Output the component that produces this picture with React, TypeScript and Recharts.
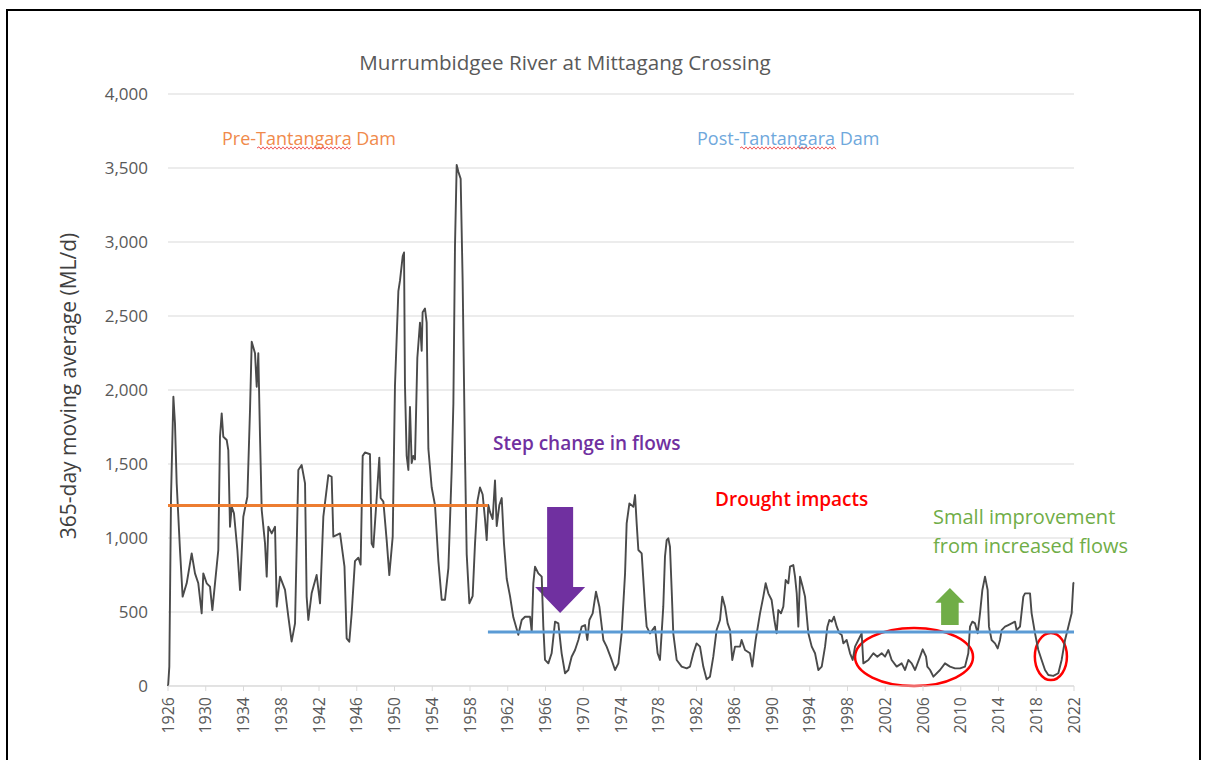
import {
  LineChart,
  Line,
  XAxis,
  YAxis,
  CartesianGrid,
  ReferenceLine,
  ReferenceArea,
} from 'recharts';

// 365-day moving average, by decimal year
const years = [
  1926.0, 1926.03, 1926.14, 1926.32, 1926.57, 1926.74, 1926.92, 1927.27, 1927.55, 1927.98,
  1928.51, 1928.86, 1929.21, 1929.57, 1929.74, 1930.1, 1930.45, 1930.7, 1930.98, 1931.33,
  1931.51, 1931.69, 1931.86, 1932.22, 1932.39, 1932.57, 1932.75, 1932.99, 1933.35, 1933.63,
  1933.98, 1934.41, 1934.69, 1934.87, 1935.22, 1935.4, 1935.57, 1935.75, 1935.93, 1936.28,
  1936.46, 1936.63, 1936.99, 1937.34, 1937.52, 1937.87, 1938.4, 1938.75, 1939.1, 1939.46,
  1939.81, 1940.16, 1940.52, 1940.69, 1940.87, 1941.22, 1941.75, 1942.11, 1942.46, 1942.99,
  1943.34, 1943.52, 1944.23, 1944.7, 1944.93, 1945.21, 1945.46, 1945.81, 1946.17, 1946.41,
  1946.63, 1946.87, 1947.4, 1947.58, 1947.76, 1948.11, 1948.39, 1948.53, 1948.82, 1949.17,
  1949.45, 1949.81, 1950.05, 1950.41, 1950.58, 1950.87, 1951.01, 1951.11, 1951.29, 1951.47,
  1951.64, 1951.82, 1951.99, 1952.17, 1952.42, 1952.7, 1952.88, 1952.98, 1953.23, 1953.41,
  1953.59, 1953.94, 1954.29, 1954.65, 1955.0, 1955.35, 1955.71, 1956.06, 1956.24, 1956.41,
  1956.59, 1956.77, 1957.01, 1957.22, 1957.47, 1957.65, 1957.93, 1958.28, 1958.53, 1958.78,
  1959.06, 1959.34, 1959.59, 1959.77, 1959.94, 1960.12, 1960.4, 1960.65, 1960.83, 1961.11,
  1961.36, 1961.6, 1961.89, 1962.24, 1962.59, 1963.12, 1963.48, 1963.83, 1964.36, 1964.54,
  1964.71, 1964.89, 1965.24, 1965.6, 1965.77, 1965.95, 1966.3, 1966.65, 1967.01, 1967.36,
  1967.71, 1968.07, 1968.42, 1968.77, 1969.13, 1969.48, 1969.83, 1970.19, 1970.43, 1970.65,
  1971.0, 1971.35, 1971.71, 1972.13, 1972.48, 1973.01, 1973.37, 1973.72, 1974.07, 1974.43,
  1974.6, 1974.89, 1975.31, 1975.49, 1975.66, 1975.84, 1976.19, 1976.55, 1976.72, 1977.07,
  1977.6, 1977.88, 1978.13, 1978.48, 1978.66, 1978.84, 1979.01, 1979.19, 1979.37, 1979.54,
  1979.9, 1980.43, 1980.96, 1981.31, 1981.66, 1982.01, 1982.37, 1982.72, 1983.07, 1983.43,
  1983.78, 1984.13, 1984.49, 1984.73, 1985.02, 1985.3, 1985.55, 1985.79, 1986.08, 1986.61,
  1986.78, 1987.14, 1987.67, 1987.91, 1988.27, 1988.73, 1989.08, 1989.33, 1989.61, 1989.96,
  1990.25, 1990.49, 1990.67, 1990.95, 1991.2, 1991.45, 1991.73, 1991.91, 1992.26, 1992.44,
  1992.62, 1992.79, 1992.97, 1993.25, 1993.5, 1993.85, 1994.21, 1994.56, 1994.91, 1995.27,
  1995.62, 1995.87, 1996.08, 1996.33, 1996.57, 1996.86, 1997.14, 1997.39, 1997.56, 1997.91,
  1998.27, 1998.55, 1998.8, 1999.15, 1999.5, 1999.68, 2000.21, 2000.74, 2001.16, 2001.62,
  2001.98, 2002.33, 2002.68, 2003.21, 2003.74, 2004.1, 2004.45, 2004.8, 2005.16, 2005.69,
  2005.97, 2006.32, 2006.46, 2006.75, 2007.1, 2007.8, 2008.33, 2008.86, 2009.39, 2009.92,
  2010.45, 2010.8, 2010.98, 2011.23, 2011.51, 2011.79, 2012.04, 2012.29, 2012.57, 2012.85,
  2012.99, 2013.27, 2013.63, 2013.91, 2014.16, 2014.33, 2014.69, 2015.04, 2015.39, 2015.75,
  2015.92, 2016.28, 2016.63, 2016.81, 2017.34, 2017.51, 2017.87, 2018.22, 2018.57, 2018.93,
  2019.28, 2019.81, 2020.34, 2020.69, 2021.05, 2021.4, 2021.75, 2021.93, 2022.0,
];

const flows = [
  0, 18, 131, 1279, 1955, 1775, 1369, 919, 604, 694,
  896, 761, 694, 491, 761, 694, 671, 513, 694, 919,
  1684, 1842, 1684, 1662, 1594, 1076, 1212, 1167, 919, 649,
  1144, 1279, 1865, 2326, 2248, 2022, 2248, 1684, 1189, 964,
  739, 1076, 1031, 1076, 536, 739, 649, 468, 300, 423,
  1459, 1493, 1369, 604, 446, 626, 750, 559, 1144, 1425,
  1414, 1009, 1031, 806, 322, 299, 488, 844, 867, 820,
  1555, 1578, 1566, 962, 938, 1270, 1543, 1270, 1246, 986,
  749, 1009, 2028, 2668, 2739, 2905, 2929, 2028, 1555, 1460,
  1886, 1507, 1555, 1531, 2218, 2455, 2265, 2526, 2550, 2455,
  1602, 1341, 1223, 844, 583, 583, 796, 1460, 1910, 2976,
  3521, 3474, 3427, 2739, 1555, 891, 559, 607, 962, 1246,
  1341, 1294, 1128, 986, 1223, 1175, 1128, 1389, 1081, 1223,
  1270, 962, 725, 607, 464, 346, 446, 468, 468, 367,
  694, 806, 761, 739, 401, 176, 153, 221, 435, 423,
  221, 86, 108, 198, 243, 311, 401, 412, 311, 446,
  491, 637, 536, 311, 266, 176, 108, 153, 356, 761,
  1099, 1234, 1211, 1290, 1099, 919, 896, 536, 401, 356,
  401, 221, 176, 536, 874, 986, 998, 941, 649, 356,
  176, 131, 119, 131, 221, 288, 266, 131, 45, 63,
  198, 378, 446, 604, 536, 423, 378, 176, 266, 266,
  311, 243, 221, 131, 311, 491, 604, 694, 626, 581,
  446, 356, 513, 491, 536, 716, 694, 806, 817, 739,
  626, 401, 739, 671, 604, 356, 266, 221, 108, 131,
  266, 401, 446, 435, 468, 401, 356, 345, 288, 311,
  221, 176, 266, 311, 356, 153, 176, 221, 198, 221,
  198, 243, 176, 131, 153, 108, 176, 153, 108, 198,
  248, 198, 131, 108, 63, 108, 153, 131, 119, 119,
  131, 221, 401, 435, 423, 356, 491, 649, 739, 649,
  401, 311, 288, 254, 311, 378, 401, 412, 423, 435,
  378, 401, 604, 626, 626, 491, 356, 243, 176, 108,
  74, 68, 86, 176, 311, 401, 491, 694, 700,
];

const yearTicks = [
  1926, 1930, 1934, 1938, 1942, 1946, 1950, 1954, 1958, 1962, 1966, 1970, 1974,
  1978, 1982, 1986, 1990, 1994, 1998, 2002, 2006, 2010, 2014, 2018, 2022,
];
const flowTicks = [0, 500, 1000, 1500, 2000, 2500, 3000, 3500, 4000];

// mean flow before / after the dam
const preDamMean = 1220;
const postDamMean = 365;
const preDamStart = 1926;
const damYear = 1959.9;
const postDamEnd = 2022;

// annotation extents in chart units (years, ML/d)
const droughtSpan = { x1: 1998.8, x2: 2011.3, y1: 0, y2: 392 };
const recentDrySpan = { x1: 2017.85, x2: 2021.25, y1: 40, y2: 358 };
const stepArrow = { x1: 1964.9, x2: 1970.2, y1: 493, y2: 1210 };
const improveArrow = { x1: 2007.3, x2: 2010.4, y1: 412, y2: 662 };

const data = years.map((year, i) => ({ year, flow: flows[i] }));

const FONT = '"Open Sans", "Noto Sans", sans-serif';

const YearTick = (props: any) => {
  const { x, y, payload } = props;
  const ty = y + 4;
  return (
    <text
      x={x}
      y={ty}
      transform={`rotate(-90, ${x}, ${ty})`}
      textAnchor="end"
      dy="0.35em"
      fill="#595959"
      fontSize={16}
      fontFamily={FONT}
    >
      {payload.value}
    </text>
  );
};

const Ellipse = (props: any) => {
  const { x, y, width, height } = props;
  return (
    <ellipse
      cx={x + width / 2}
      cy={y + height / 2}
      rx={width / 2}
      ry={height / 2}
      fill="none"
      stroke="#ff0000"
      strokeWidth={2.5}
    />
  );
};

const makeArrow = (color: string, shaftRatio: number, headRatio: number, down: boolean) => (props: any) => {
  const { x, y, width, height } = props;
  const cx = x + width / 2;
  const sw = (width * shaftRatio) / 2;
  const hh = height * headRatio;
  const pts = down
    ? [
        [cx - sw, y], [cx + sw, y], [cx + sw, y + height - hh], [x + width, y + height - hh],
        [cx, y + height], [x, y + height - hh], [cx - sw, y + height - hh],
      ]
    : [
        [cx, y], [x + width, y + hh], [cx + sw, y + hh], [cx + sw, y + height],
        [cx - sw, y + height], [cx - sw, y + hh], [x, y + hh],
      ];
  return <polygon points={pts.map((p) => p.join(',')).join(' ')} fill={color} stroke="none" />;
};

const StepArrow = makeArrow('#7030a0', 0.52, 0.245, true);
const ImproveArrow = makeArrow('#70ad47', 0.6, 0.4, false);

const squiggle = (x1: number, x2: number, y: number) => {
  let d = `M${x1},${y}`;
  let up = true;
  for (let x = x1 + 2; x <= x2; x += 2) {
    d += ` L${x},${up ? y - 1.2 : y + 1.2}`;
    up = !up;
  }
  return d;
};

export default function App() {
  return (
    <div style={{ position: 'absolute', left: 0, top: 0, width: 1209, height: 760, background: '#fff', overflow: 'hidden' }}>
      <LineChart
        width={1209}
        height={760}
        data={data}
        margin={{ top: 94, right: 135, bottom: 14, left: 98 }}
      >
        <CartesianGrid stroke="#d9d9d9" vertical={false} />
        <XAxis
          dataKey="year"
          type="number"
          domain={[1926, 2022]}
          ticks={yearTicks}
          interval={0}
          height={60}
          axisLine={{ stroke: '#d9d9d9' }}
          tickLine={{ stroke: '#d9d9d9' }}
          tickSize={5}
          tick={<YearTick />}
        />
        <YAxis
          type="number"
          domain={[0, 4000]}
          ticks={flowTicks}
          width={70}
          axisLine={false}
          tickLine={false}
          tickSize={6}
          tickMargin={14}
          tickFormatter={(v: number) => v.toLocaleString('en-US')}
          tick={{ fill: '#595959', fontSize: 17, fontFamily: FONT }}
        />
        <Line
          type="linear"
          dataKey="flow"
          stroke="#4a4a4a"
          strokeWidth={1.9}
          strokeLinejoin="round"
          dot={false}
          activeDot={false}
          isAnimationActive={false}
        />
        <ReferenceLine
          segment={[{ x: preDamStart, y: preDamMean }, { x: damYear, y: preDamMean }]}
          stroke="#ed7d31"
          strokeWidth={3}
        />
        <ReferenceLine
          segment={[{ x: damYear, y: postDamMean }, { x: postDamEnd, y: postDamMean }]}
          stroke="#5b9bd5"
          strokeWidth={3}
        />
        <ReferenceArea {...stepArrow} shape={StepArrow} />
        <ReferenceArea {...improveArrow} shape={ImproveArrow} />
        <ReferenceArea {...droughtSpan} shape={Ellipse} />
        <ReferenceArea {...recentDrySpan} shape={Ellipse} />
      </LineChart>

      <svg
        width={1209}
        height={760}
        style={{ position: 'absolute', left: 0, top: 0, pointerEvents: 'none' }}
        fontFamily={FONT}
      >
        <rect x={7} y={10} width={1193} height={770} fill="none" stroke="#000" strokeWidth={2} />
        <text x={565} y={62} textAnchor="middle" dominantBaseline="central" fontSize={20.6} fill="#595959">
          Murrumbidgee River at Mittagang Crossing
        </text>
        <text
          x={68}
          y={386}
          transform="rotate(-90, 68, 386)"
          textAnchor="middle"
          dominantBaseline="central"
          fontSize={21}
          fill="#404040"
        >
          365-day moving average (ML/d)
        </text>
        <text x={222} y={138} dominantBaseline="central" fontSize={18} fill="#f08a4b">
          Pre-Tantangara Dam
        </text>
        <path d={squiggle(257, 351, 148)} fill="none" stroke="#f05a5a" strokeWidth={1} />
        <text x={697} y={138} dominantBaseline="central" fontSize={18} fill="#6fa8dc">
          Post-Tantangara Dam
        </text>
        <path d={squiggle(740, 836, 148)} fill="none" stroke="#f05a5a" strokeWidth={1} />
        <text x={493} y={443} dominantBaseline="central" fontSize={19} fontWeight={600} fill="#7030a0">
          Step change in flows
        </text>
        <text x={715} y={499} dominantBaseline="central" fontSize={19} fontWeight={600} fill="#ff0000">
          Drought impacts
        </text>
        <text x={933} y={516} dominantBaseline="central" fontSize={20} fill="#70ad47">
          Small improvement
        </text>
        <text x={933} y={545} dominantBaseline="central" fontSize={20} fill="#70ad47">
          from increased flows
        </text>
      </svg>
    </div>
  );
}
